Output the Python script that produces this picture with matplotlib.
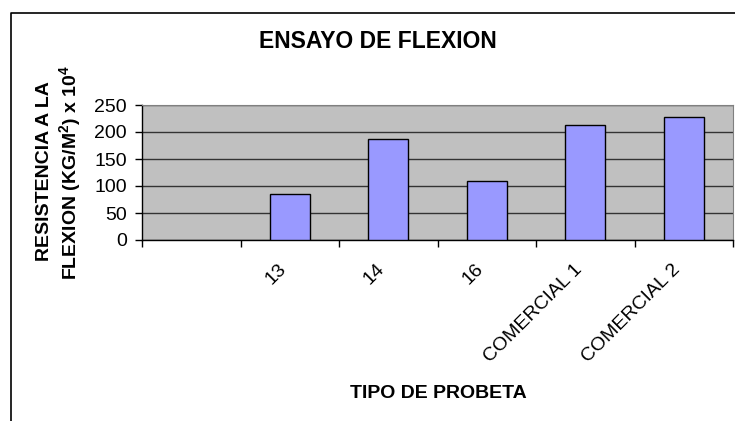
import matplotlib
matplotlib.use("Agg")
import matplotlib.pyplot as plt
from matplotlib.lines import Line2D
import numpy as np

plt.rcParams['font.family'] = ['Liberation Sans', 'DejaVu Sans']
plt.rcParams['mathtext.fontset'] = 'custom'
plt.rcParams['mathtext.rm'] = 'Liberation Sans'
plt.rcParams['mathtext.bf'] = 'Liberation Sans:bold'
plt.rcParams['mathtext.default'] = 'bf'

# data
categorias = ['', '13', '14', '16', 'COMERCIAL 1', 'COMERCIAL 2']
resistencia = [np.nan, 85, 187, 110, 213, 228]

W, H = 735, 421
fig = plt.figure(figsize=(W / 100, H / 100), dpi=100)
fig.patch.set_facecolor('white')

# outer chart border (cut by the image on right and bottom)
fig.add_artist(Line2D([11 / W, 11 / W, 1.0], [0.0, 1 - 13 / H, 1 - 13 / H],
                      transform=fig.transFigure, color='black', lw=1.2))

ax = fig.add_axes([142 / W, 1 - 240 / H, (733 - 142) / W, (240 - 105) / H])
ax.set_facecolor('#C0C0C0')

x = np.arange(len(categorias))
ax.bar(x, resistencia, width=0.41, color='#9999FF', edgecolor='black',
       linewidth=1.0, zorder=3)

ax.set_xlim(-0.5, len(categorias) - 0.5)
ax.set_ylim(0, 250)
ax.set_yticks(range(0, 251, 50))
ax.yaxis.grid(True, color='#333333', lw=1.0, zorder=1)
ax.set_axisbelow(True)

for s in ['top', 'right']:
    ax.spines[s].set_color('#808080')
for s in ['left', 'bottom']:
    ax.spines[s].set_color('black')
    ax.spines[s].set_linewidth(1.0)

# major ticks at category boundaries, labels on minor ticks at centres
ax.set_xticks(np.arange(-0.5, len(categorias), 1.0))
ax.set_xticklabels([])
ax.set_xticks(x, minor=True)
ax.set_xticklabels(categorias, minor=True, rotation=45, ha='right', va='top',
                   fontsize=14)
ax.tick_params(axis='x', which='major', direction='out', length=5, width=1)
ax.tick_params(axis='x', which='minor', length=0, pad=15)
ax.tick_params(axis='y', direction='out', length=5, width=1, labelsize=14, pad=6)

fig.text(378 / W, 1 - 42 / H, 'ENSAYO DE FLEXION', ha='center', va='center',
         fontsize=16.5, fontweight='bold')
fig.text(438 / W, 1 - 393 / H, 'TIPO DE PROBETA', ha='center', va='center',
         fontsize=14, fontweight='bold')
fig.text(45 / W, 1 - 171 / H, 'RESISTENCIA A LA', ha='center', va='center',
         rotation=90, fontsize=14, fontweight='bold')
fig.text(70 / W, 1 - 172 / H, r'FLEXION (KG/M$^2$) x 10$^4$', ha='center',
         va='center', rotation=90, fontsize=14, fontweight='bold')

fig.savefig('out.png', dpi=100)
